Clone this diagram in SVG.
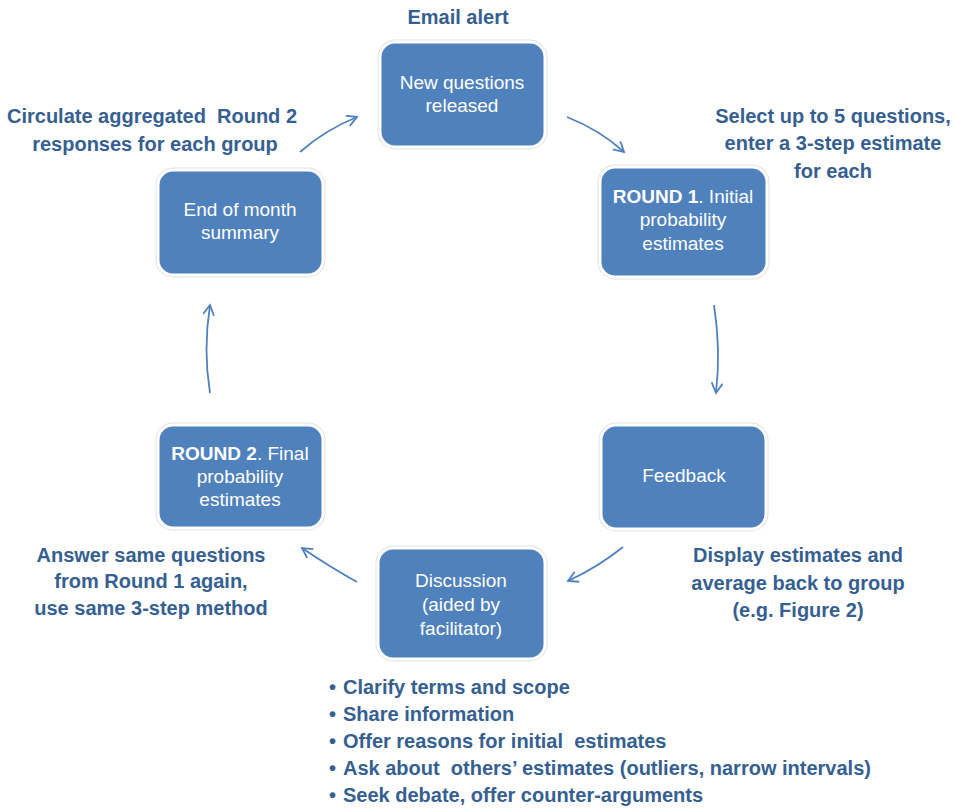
<svg xmlns="http://www.w3.org/2000/svg" width="955" height="811" viewBox="0 0 955 811">
<style>
.box{fill:#4F81BD;stroke:#FFFFFF;stroke-width:3}
.halo{fill:none;stroke:#E2E2E2;stroke-width:5}
.bt{font-family:"Liberation Sans",Arial,sans-serif;font-size:19px;fill:#FFFFFF;text-anchor:middle}
.lb{font-family:"Liberation Sans",Arial,sans-serif;font-size:20px;font-weight:bold;fill:#365F91;text-anchor:middle}
.bl{font-family:"Liberation Sans",Arial,sans-serif;font-size:20px;font-weight:bold;fill:#365F91}
.arr{fill:none;stroke:#4F81BD;stroke-width:1.8;marker-end:url(#ah)}
</style>
<defs>
<marker id="ah" markerUnits="userSpaceOnUse" markerWidth="16" markerHeight="16" refX="11" refY="6" orient="auto">
<path d="M1,0.5 L11,6 L1,11.5" fill="none" stroke="#4F81BD" stroke-width="1.8"/>
</marker>
</defs>
<rect width="955" height="811" fill="#FFFFFF"/>

<g id="connectors">
<path class="arr" d="M567,117 Q600,130 624,152"/>
<path class="arr" d="M714,305 Q721,350 716,393"/>
<path class="arr" d="M623,547 Q598,567 568,581"/>
<path class="arr" d="M357,582 Q330,567 302,548"/>
<path class="arr" d="M210,393 Q203,350 210,305"/>
<path class="arr" d="M300,152 Q325,130 357,117"/>
</g>

<g id="node-new-questions">
<rect class="halo" x="380" y="42" width="165" height="105" rx="15"/>
<rect class="box" x="380" y="42" width="165" height="105" rx="15"/>
<text class="bt" x="462" y="89">New questions</text>
<text class="bt" x="462" y="112">released</text>
</g>

<g id="node-round1">
<rect class="halo" x="600" y="167" width="167" height="110" rx="15"/>
<rect class="box" x="600" y="167" width="167" height="110" rx="15"/>
<text class="bt" x="683" y="203"><tspan font-weight="bold">ROUND 1</tspan>. Initial</text>
<text class="bt" x="683" y="226">probability</text>
<text class="bt" x="683" y="250">estimates</text>
</g>

<g id="node-feedback">
<rect class="halo" x="601" y="425" width="165" height="104" rx="15"/>
<rect class="box" x="601" y="425" width="165" height="104" rx="15"/>
<text class="bt" x="684" y="482">Feedback</text>
</g>

<g id="node-discussion">
<rect class="halo" x="378" y="548" width="167" height="111" rx="15"/>
<rect class="box" x="378" y="548" width="167" height="111" rx="15"/>
<text class="bt" x="461" y="587">Discussion</text>
<text class="bt" x="461" y="611">(aided by</text>
<text class="bt" x="461" y="635">facilitator)</text>
</g>

<g id="node-round2">
<rect class="halo" x="158" y="425" width="165" height="103" rx="15"/>
<rect class="box" x="158" y="425" width="165" height="103" rx="15"/>
<text class="bt" x="240" y="460"><tspan font-weight="bold">ROUND 2</tspan>. Final</text>
<text class="bt" x="240" y="483">probability</text>
<text class="bt" x="240" y="506">estimates</text>
</g>

<g id="node-end-of-month">
<rect class="halo" x="158" y="170" width="165" height="105" rx="15"/>
<rect class="box" x="158" y="170" width="165" height="105" rx="15"/>
<text class="bt" x="240" y="216">End of month</text>
<text class="bt" x="240" y="239">summary</text>
</g>

<g id="labels">
<text class="lb" x="458" y="24">Email alert</text>
<text class="lb" x="152" y="123" xml:space="preserve">Circulate aggregated  Round 2</text>
<text class="lb" x="155" y="151">responses for each group</text>
<text class="lb" x="833" y="123">Select up to 5 questions,</text>
<text class="lb" x="833" y="150">enter a 3-step estimate</text>
<text class="lb" x="833" y="178">for each</text>
<text class="lb" x="798" y="562">Display estimates and</text>
<text class="lb" x="798" y="590">average back to group</text>
<text class="lb" x="798" y="617">(e.g. Figure 2)</text>
<text class="lb" x="151" y="562">Answer same questions</text>
<text class="lb" x="151" y="588">from Round 1 again,</text>
<text class="lb" x="151" y="615">use same 3-step method</text>
</g>

<g id="bullets">
<text class="bl" x="329" y="694">•</text><text class="bl" x="343" y="694">Clarify terms and scope</text>
<text class="bl" x="329" y="721">•</text><text class="bl" x="343" y="721">Share information</text>
<text class="bl" x="329" y="748">•</text><text class="bl" x="343" y="748" xml:space="preserve">Offer reasons for initial  estimates</text>
<text class="bl" x="329" y="775">•</text><text class="bl" x="343" y="775" xml:space="preserve">Ask about  others’ estimates (outliers, narrow intervals)</text>
<text class="bl" x="329" y="802">•</text><text class="bl" x="343" y="802">Seek debate, offer counter-arguments</text>
</g>
</svg>
